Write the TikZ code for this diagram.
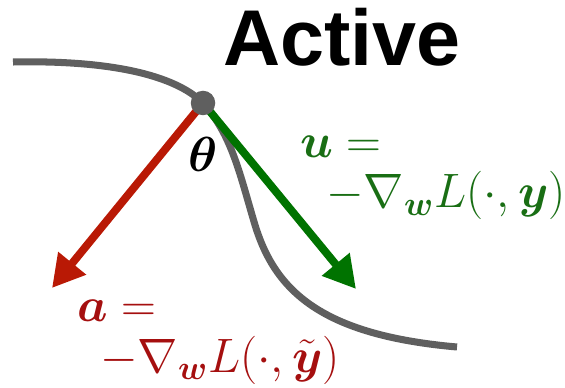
\RequirePackage{fix-cm}
\documentclass[tikz,border=0pt]{standalone}
\usepackage{amsmath}
\usepackage{amssymb}
\usepackage{fontspec}
\newfontfamily\headfont{Liberation Sans}
\usepackage{xcolor}
\usepackage{tikz}
\usetikzlibrary{arrows.meta}

\definecolor{curvegray}{RGB}{95,95,95}
\definecolor{arrowred}{RGB}{185,25,5}
\definecolor{arrowgreen}{RGB}{0,115,0}
\definecolor{textred}{RGB}{165,15,15}
\definecolor{textgreen}{RGB}{25,110,20}

\tikzset{
  gradarrow/.style={line width=4.5pt, -{Triangle[length=0.64cm,width=0.68cm]}},
  mathlabel/.style={font=\fontsize{27.5}{28.5}\selectfont, inner sep=0pt, anchor=base west, align=left}
}

\begin{document}
\begin{tikzpicture}
\useasboundingbox (0,0) rectangle (11.3,7.74);
\coordinate (theta) at (4.06,5.68);
\coordinate (atip) at (1.04,1.98);
\coordinate (utip) at (7.12,1.96);
% loss curve
\draw[curvegray, line width=4pt] (0.26,6.50) .. controls (2.2,6.54) and (3.5,6.24) .. (theta)
  .. controls (4.64,5.04) and (4.8,4.24) .. (5.1,3.24)
  .. controls (5.5,1.94) and (6.4,1.04) .. (9.14,0.80);
\draw[gradarrow, arrowred] (theta) -- (atip);
\draw[gradarrow, arrowgreen] (theta) -- (utip);
\fill[curvegray] (theta) circle (0.245);
\node[font=\fontsize{28}{34}\selectfont, inner sep=0pt] (thetalabel) at (4.06,4.66) {$\boldsymbol{\theta}$};
\node[font=\headfont\bfseries\fontsize{45}{54}\selectfont, anchor=base, inner sep=0pt] (title) at (6.84,6.42) {Active};
\node[mathlabel, textgreen] (ulabel) at (6.0,3.58)
  {$\boldsymbol{u} =$\\\hspace*{0.52cm}$-\nabla_{\boldsymbol{w}} L(\cdot, \boldsymbol{y})$};
\node[mathlabel, textred] (alabel) at (1.54,0.30)
  {$\boldsymbol{a} =$\\\hspace*{0.46cm}$-\nabla_{\boldsymbol{w}} L(\cdot, \tilde{\boldsymbol{y}})$};
\end{tikzpicture}
\end{document}
